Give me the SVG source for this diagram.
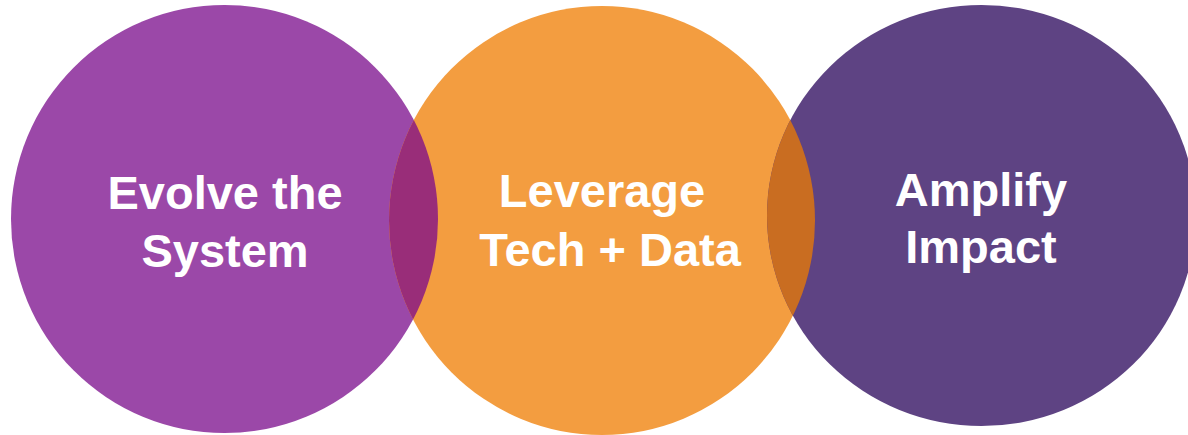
<svg xmlns="http://www.w3.org/2000/svg" width="1188" height="435" viewBox="0 0 1188 435">
<style>
.lbl{font-family:"Liberation Sans",Arial,sans-serif;font-weight:bold;font-size:47px;fill:#ffffff;text-anchor:middle}
</style>
<defs>
<clipPath id="clipOrange"><ellipse cx="602" cy="220.5" rx="213" ry="214.5"/></clipPath>
</defs>
<rect width="1188" height="435" fill="#ffffff"/>
<g id="node-evolve">
<ellipse cx="224.5" cy="219" rx="213.5" ry="214" fill="#9B48A8"/>
</g>
<g id="node-leverage">
<ellipse cx="602" cy="220.5" rx="213" ry="214.5" fill="#F39D40"/>
</g>
<g id="node-amplify">
<ellipse cx="981.5" cy="215.5" rx="214.5" ry="210.5" fill="#5E4383"/>
</g>
<g id="overlaps">
<ellipse cx="224.5" cy="219" rx="213.5" ry="214" fill="#992D79" clip-path="url(#clipOrange)"/>
<ellipse cx="981.5" cy="215.5" rx="214.5" ry="210.5" fill="#C96D21" clip-path="url(#clipOrange)"/>
</g>
<g id="labels">
<text class="lbl" x="225" y="209">Evolve the</text>
<text class="lbl" x="225" y="267">System</text>
<text class="lbl" x="602" y="207">Leverage</text>
<text class="lbl" x="610" y="266">Tech + Data</text>
<text class="lbl" x="981" y="206">Amplify</text>
<text class="lbl" x="981" y="263">Impact</text>
</g>
</svg>
